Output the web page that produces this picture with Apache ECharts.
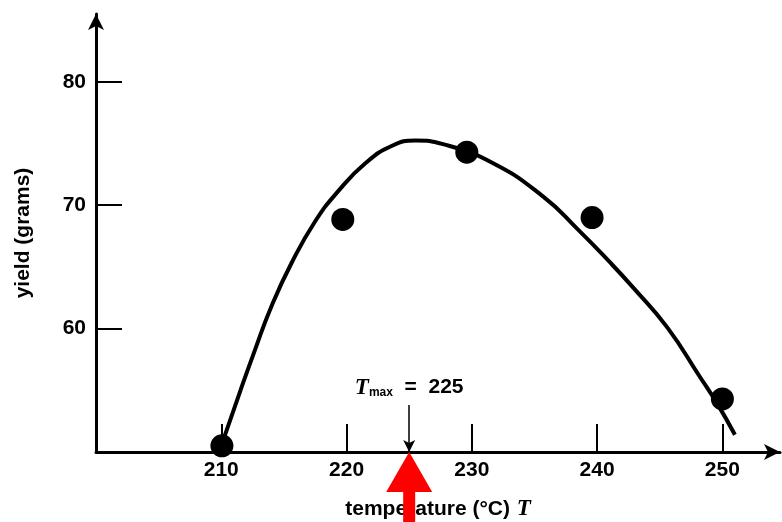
<!DOCTYPE html>
<html>
<head>
<meta charset="utf-8">
<script src="https://cdn.jsdelivr.net/npm/echarts@6/dist/echarts.min.js"></script>
<style>
    html, body { margin: 0; padding: 0; background: #fff; }
    #main { width: 782px; height: 522px; }
</style>
</head>
<body>
<div id="main"></div>
<script>
// fitted curve
var curveT = [210.1, 211.5, 212.7, 214.0, 215.6, 217.5, 219.3, 221.5, 223.6, 225.5, 227.7, 231.7, 235.7, 238.4, 241.0, 242.9, 245.6, 248.2, 249.6, 251.0];
var curveYield = [50.8, 54.9, 58.3, 61.8, 65.3, 68.7, 71.1, 73.4, 74.8, 75.25, 74.95, 73.4, 70.7, 68.1, 65.4, 63.3, 60.1, 56.1, 53.9, 51.4];

// measured points
var dotT = [210.05, 219.7, 229.6, 239.6, 250.0];
var dotYield = [50.5, 68.85, 74.3, 69.0, 54.3];

var xTicks = [210, 220, 230, 240, 250];
var yTicks = [60, 70, 80];
var tMax = 225;

var labelFont = 'Liberation Sans';

var curve = curveT.map(function (t, i) { return [t, curveYield[i]]; });
var dots = dotT.map(function (t, i) { return [t, dotYield[i]]; });

var myChart = echarts.init(document.getElementById('main'));

var option = {
    animation: false,
    backgroundColor: '#fff',
    grid: { left: 96, right: 2, top: 14, bottom: 70, outerBoundsMode: 'none', containLabel: false },
    xAxis: {
        type: 'value',
        min: 200,
        max: 254.6,
        interval: 10,
        splitLine: { show: false },
        axisLine: {
            onZero: false,
            symbol: ['none', 'arrow'],
            symbolSize: [12, 16],
            lineStyle: { color: '#000', width: 3 }
        },
        axisTick: {
            customValues: xTicks,
            inside: true,
            length: 28,
            lineStyle: { color: '#000', width: 2 }
        },
        axisLabel: {
            customValues: xTicks,
            margin: 8,
            color: '#000',
            fontFamily: labelFont,
            fontWeight: 'bold',
            fontSize: 21
        },
        name: '{n|temperature (°C)}  {i|T}',
        nameLocation: 'middle',
        nameGap: 46,
        nameTextStyle: {
            rich: {
                n: { fontFamily: labelFont, fontSize: 21, fontWeight: 'bold', color: '#000' },
                i: { fontFamily: 'Liberation Serif', fontSize: 23, fontStyle: 'italic', fontWeight: 'bold', color: '#000' }
            }
        }
    },
    yAxis: {
        type: 'value',
        min: 50,
        max: 85.5,
        interval: 10,
        splitLine: { show: false },
        axisLine: {
            onZero: false,
            symbol: ['none', 'arrow'],
            symbolSize: [12, 16],
            lineStyle: { color: '#000', width: 3 }
        },
        axisTick: {
            customValues: yTicks,
            inside: true,
            length: 26,
            lineStyle: { color: '#000', width: 2 }
        },
        axisLabel: {
            customValues: yTicks,
            margin: 10,
            color: '#000',
            fontFamily: labelFont,
            fontWeight: 'bold',
            fontSize: 21
        },
        name: 'yield (grams)',
        nameLocation: 'middle',
        nameGap: 62,
        nameRotate: 90,
        nameTextStyle: {
            fontFamily: labelFont,
            fontSize: 21,
            fontWeight: 'bold',
            color: '#000'
        }
    },
    series: [{
        name: 'fit',
        type: 'line',
        data: curve,
        smooth: 0.5,
        showSymbol: false,
        lineStyle: { color: '#000', width: 4 },
        z: 2
    }, {
        name: 'yield',
        type: 'scatter',
        data: dots,
        symbolSize: 23,
        itemStyle: { color: '#000', opacity: 1 },
        z: 3,
        markLine: {
            silent: true,
            symbol: ['none', 'arrow'],
            symbolSize: [9, 12],
            lineStyle: { color: '#000', width: 1.5, type: 'solid' },
            label: {
                show: true,
                position: 'start',
                distance: 6,
                formatter: '{i|T}{s|max}{n|  =  ' + tMax + '}',
                rich: {
                    i: { fontFamily: 'Liberation Serif', fontSize: 23, fontStyle: 'italic', fontWeight: 'bold', color: '#000' },
                    s: { fontFamily: labelFont, fontSize: 12, fontWeight: 'bold', color: '#000', padding: [10, 0, 0, 0] },
                    n: { fontFamily: labelFont, fontSize: 21, fontWeight: 'bold', color: '#000' }
                }
            },
            data: [[{ coord: [tMax, 53.8] }, { coord: [tMax, 50] }]]
        },
        markPoint: {
            silent: true,
            symbol: 'path://M23,0 L46,40 L29,40 L29,72 L17,72 L17,40 L0,40 Z',
            symbolSize: [46, 72],
            symbolOffset: [0, 36],
            itemStyle: { color: '#ff0000' },
            label: { show: false },
            data: [{ coord: [tMax, 50] }]
        }
    }]
};

myChart.setOption(option);
</script>
</body>
</html>
